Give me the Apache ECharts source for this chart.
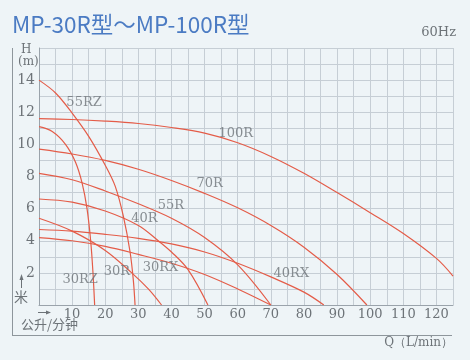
<!DOCTYPE html>
<html><head><meta charset="utf-8">
<script src="https://cdn.jsdelivr.net/npm/echarts@6/dist/echarts.min.js"></script>
<style>html,body{margin:0;padding:0;background:#eef4f7;}#c{width:470px;height:360px;}</style>
</head><body><div id="c"></div>
<script>
// Pump curves: [Q (L/min), H (m)]
const curveNames = ['55RZ','100R','30RZ','70R','55R','40R','30R','40RX','30RX'];
const c55RZ = [[0,14],[5,13.2],[10,11.95],[15,10.5],[20,8.7],[23,7.4],[25.5,5.5],[27.5,3.3],[28.5,1.5],[29,0]];
const c100R = [[0,11.6],[10,11.55],[20,11.45],[30,11.3],[40,11.05],[50,10.7],[60,10.1],[70,9.25],[80,8.2],[90,7.0],[100,5.75],[110,4.45],[120,2.9],[125,1.8]];
const c30RZ = [[0,11.1],[4,10.8],[8,10.0],[11,8.9],[13,7.6],[14.5,6.0],[15.6,4.0],[16.3,2.0],[16.8,0]];
const c70R = [[0,9.7],[10,9.4],[20,9.0],[30,8.45],[40,7.75],[50,6.95],[60,6.05],[70,4.95],[80,3.6],[90,1.9],[99,0]];
const c55R = [[0,8.2],[10,7.8],[20,7.1],[30,6.3],[40,5.4],[50,4.2],[60,2.5],[70,0]];
const c40R = [[0,6.6],[10,6.4],[20,5.85],[30,4.95],[36,4.0],[40,3.3],[45,2.2],[51,0]];
const c30R = [[0,5.4],[10,4.6],[20,3.4],[28,2.0],[33,1.0],[37,0]];
const c40RX = [[0,4.7],[10,4.6],[20,4.4],[30,4.15],[40,3.8],[50,3.3],[60,2.6],[70,1.75],[80,0.8],[86,0]];
const c30RX = [[0,4.2],[10,4.0],[20,3.65],[30,3.15],[40,2.6],[50,1.9],[60,1.0],[70,0]];
const curveData = [c55RZ,c100R,c30RZ,c70R,c55R,c40R,c30R,c40RX,c30RX];

// curve name annotations placed at [Q, H]
const labelNames = ['55RZ','100R','70R','55R','40R','30RX','30R','30RZ','40RX'];
const labelQ = [13.6,59.4,51.5,39.8,31.8,36.7,23.5,12.4,76.2];
const labelH = [12.6,10.7,7.55,6.2,5.35,2.3,2.1,1.55,1.93];

const xTickLabels = [10,20,30,40,50,60,70,80,90,100,110,120];
const yTickLabels = [2,4,6,8,10,12,14];

const titleText = 'MP-30R型～MP-100R型';
const freqText = '60Hz';

const chart = echarts.init(document.getElementById('c'), null, {renderer:'canvas'});
const serif = 'DejaVu Serif';
const grey = '#6d7378';
const red = '#e45c48';

const series = curveData.map((d,i)=>({
  type:'line', name:curveNames[i], data:d, smooth:0.35, showSymbol:false,
  lineStyle:{color:red, width:1.2}, silent:true, z:3
}));
series.push({
  type:'scatter', symbolSize:0, silent:true, z:4,
  data: labelNames.map((n,i)=>({name:n, value:[labelQ[i], labelH[i]]})),
  label:{show:true, position:'inside', formatter:'{b}', color:grey, fontFamily:serif, fontSize:13}
});

chart.setOption({
  backgroundColor:'#eef4f7',
  animation:false,
  grid:{left:39, right:17, top:48, bottom:55, show:false},
  xAxis:{
    type:'value', min:0, max:125, interval:5,
    axisLine:{show:true, onZero:false, lineStyle:{color:'#9aa3ab', width:1}},
    axisTick:{show:false},
    splitLine:{show:true, lineStyle:{color:'#c6ced5', width:1}},
    axisLabel:{margin:3, color:grey, fontFamily:serif, fontSize:13,
      formatter:v=> xTickLabels.indexOf(v)>=0 ? String(v) : ''}
  },
  yAxis:{
    type:'value', min:0, max:16, interval:1,
    axisLine:{show:true, lineStyle:{color:'#9aa3ab', width:1}},
    axisTick:{show:false},
    splitLine:{show:true, lineStyle:{color:'#c6ced5', width:1}},
    axisLabel:{margin:4, color:grey, fontFamily:serif, fontSize:14,
      formatter:v=> yTickLabels.indexOf(v)>=0 ? String(v) : ''}
  },
  graphic:[
    {type:'text', left:12, top:13, style:{text:titleText, fill:'#4b7bc3', font:'22.5px "Noto Sans CJK SC"'}},
    {type:'text', right:14, top:26, style:{text:freqText, fill:grey, font:'13px "DejaVu Serif"'}},
    {type:'text', left:21, top:44, style:{text:'H', fill:grey, font:'12px "DejaVu Serif"'}},
    {type:'text', left:18, top:56, style:{text:'(m)', fill:grey, font:'12px "DejaVu Serif"'}},
    {type:'line', shape:{x1:12.5, y1:48, x2:12.5, y2:335.5}, style:{stroke:'#8e969c', lineWidth:1}},
    {type:'line', shape:{x1:12, y1:335.5, x2:452, y2:335.5}, style:{stroke:'#8e969c', lineWidth:1}},
    {type:'line', shape:{x1:21.5, y1:288, x2:21.5, y2:276}, style:{stroke:grey, lineWidth:1}},
    {type:'polygon', shape:{points:[[19.5,280],[21.5,274],[23.5,280]]}, style:{fill:grey}},
    {type:'text', left:14, top:290, style:{text:'米', fill:grey, font:'14px "Noto Sans CJK SC"'}},
    {type:'line', shape:{x1:38, y1:312.5, x2:50, y2:312.5}, style:{stroke:grey, lineWidth:1}},
    {type:'polygon', shape:{points:[[46,310.5],[51,312.5],[46,314.5]]}, style:{fill:grey}},
    {type:'text', left:21, top:318, style:{text:'公升/分钟', fill:grey, font:'13px "Noto Sans CJK SC"'}},
    {type:'text', right:17, top:337, style:{text:'Q（L/min）', fill:grey, font:'12px "DejaVu Serif"'}}
  ],
  series
});
</script></body></html>
